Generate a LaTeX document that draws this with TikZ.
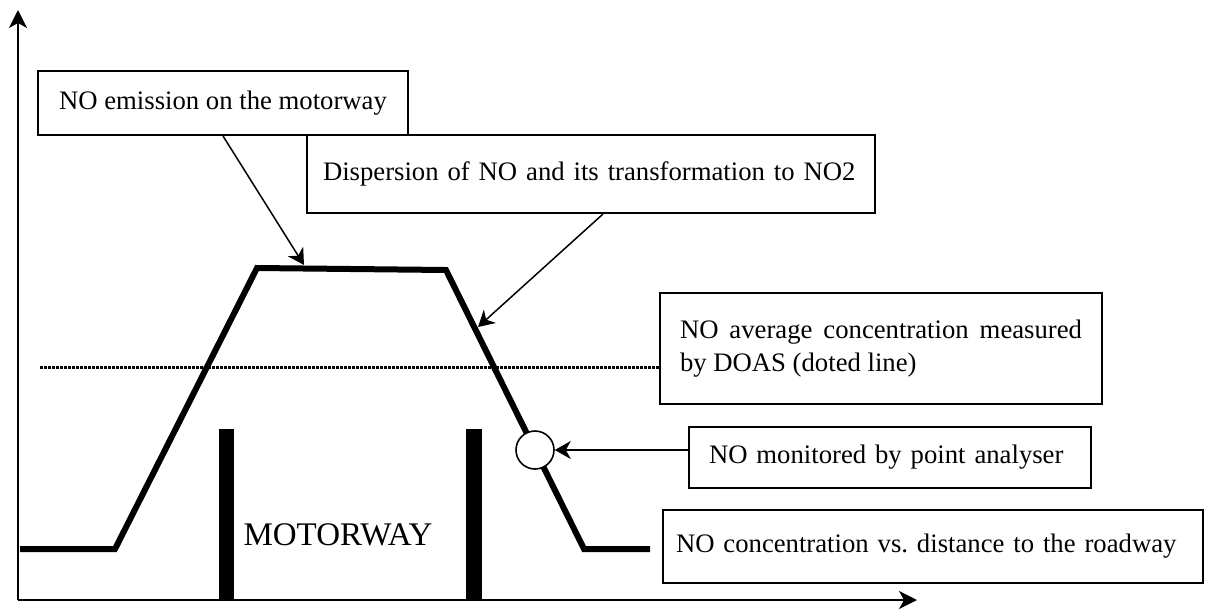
\documentclass[tikz,border=0pt]{standalone}
\usepackage{fontspec}
\setmainfont{Liberation Serif}
\usetikzlibrary{arrows.meta}

\begin{document}
\begin{tikzpicture}[x=0.5pt, y=-0.5pt,
  box/.style={draw, line width=1pt, inner ysep=0pt,
              font=\fontsize{13.35}{16.5}\selectfont\frenchspacing},
  arr/.style={-{Stealth[length=8pt,width=9pt,inset=2.5pt]}, line width=0.75pt},
  axis/.style={-{Stealth[length=9pt,width=9pt,inset=2.5pt]}, line width=0.75pt}]
\useasboundingbox (0,0) rectangle (1208,612);
% axes
\coordinate (o) at (18,600);
\coordinate (ytop) at (18,10);
\coordinate (xend) at (917,600);
\draw[axis] (o) -- (ytop);
\draw[axis] (o) -- (xend);
% motorway edges
\fill (219,429) rectangle (234,600);
\fill (466,429) rectangle (482,600);
\node[font=\fontsize{16.5}{19}\selectfont] (road) at (338,535) {MOTORWAY};
% concentration profile
\draw[line width=3pt] (20,549) -- (115,549) -- (257,268) -- (446,270) -- (584,549) -- (650,549);
\coordinate (topflat) at (304,265);
\coordinate (slope) at (478,327);
\coordinate (doasline) at (40,367);
\node[draw, circle, fill=white, line width=0.8pt, minimum size=19pt, inner sep=0pt] (dot) at (535,450) {};
% text boxes
\node[box, minimum width=185pt, minimum height=32pt] (emis) at (223,103) {NO emission on the motorway};
\node[box, text width=268pt, inner xsep=8pt, minimum height=39pt, align=left] (disp) at (591,174) {Dispersion of NO and its transformation to NO2};
\node[box, text width=201pt, inner xsep=10pt, minimum height=55.5pt, align=justify] (doas) at (881,348.5) {NO average concentration measured by DOAS (doted line)};
\node[box, text width=181pt, inner xsep=10pt, minimum height=30.5pt, align=left] (point) at (890,457.5) {NO monitored by point analyser};
\node[box, text width=257pt, inner xsep=6.5pt, minimum height=36.5pt, align=left] (conc) at (933,546.5) {NO concentration vs. distance to the roadway};
% DOAS level and pointers
\draw[line width=1.5pt, dash pattern=on 1.25pt off 0.75pt] (doasline) -- (doas.west |- doasline);
\draw[arr] (emis.south) -- (topflat);
\draw[arr] ([xshift=6pt]disp.south) -- (slope);
\draw[arr] (point.west |- dot) -- (dot.east);
\end{tikzpicture}
\end{document}
